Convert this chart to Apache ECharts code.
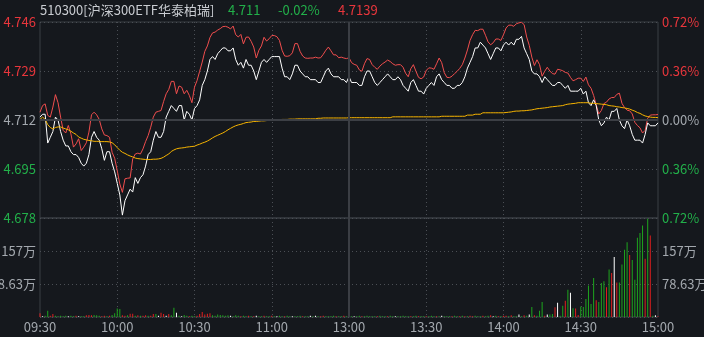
<!DOCTYPE html>
<html>
<head>
<meta charset="utf-8">
<script src="https://cdn.jsdelivr.net/npm/echarts@6/dist/echarts.min.js"></script>
<style>
html,body{margin:0;padding:0;background:#15181d;}
#c{width:704px;height:337px;}
</style>
</head>
<body>
<div id="c"></div>
<script>
// ---- data ----
const code = '510300[沪深300ETF华泰柏瑞]';
const lastPrice = '4.711';
const changePct = '-0.02%';
const iopvLast = '4.7139';
const prevClose = 4.712;
const tickLabels = ['09:30','10:00','10:30','11:00','13:00','13:30','14:00','14:30','15:00'];
const volTickLabels = ['', '78.63万', '157万', ''];
const volMax = 235.89;

const price = [
 4.713,4.714,4.714,4.704,4.706,4.708,4.713,4.712,4.708,4.705,
 4.703,4.703,4.701,4.700,4.700,4.699,4.697,4.696,4.697,4.700,
 4.706,4.708,4.706,4.705,4.702,4.698,4.701,4.701,4.697,4.694,
 4.690,4.686,4.679,4.684,4.686,4.688,4.687,4.692,4.690,4.692,
 4.693,4.696,4.700,4.701,4.705,4.708,4.706,4.706,4.708,4.713,
 4.715,4.717,4.716,4.715,4.717,4.717,4.712,4.715,4.714,4.712,
 4.716,4.717,4.719,4.724,4.726,4.729,4.733,4.734,4.733,4.735,
 4.736,4.737,4.737,4.736,4.736,4.737,4.733,4.731,4.732,4.730,
 4.733,4.731,4.731,4.729,4.726,4.729,4.732,4.733,4.732,4.733,
 4.734,4.734,4.734,4.734,4.730,4.727,4.727,4.726,4.728,4.731,
 4.731,4.729,4.728,4.727,4.727,4.726,4.726,4.726,4.725,4.725,
 4.727,4.729,4.730,4.728,4.727,4.727,4.727,4.726,4.726,4.725,
 4.727,4.725,4.725,4.725,4.724,4.724,4.727,4.729,4.729,4.727,
 4.725,4.724,4.725,4.726,4.727,4.728,4.727,4.726,4.726,4.727,
 4.726,4.724,4.723,4.722,4.725,4.726,4.724,4.722,4.722,4.721,
 4.723,4.724,4.725,4.724,4.727,4.728,4.726,4.725,4.724,4.724,
 4.723,4.723,4.724,4.724,4.725,4.727,4.730,4.732,4.734,4.737,
 4.737,4.739,4.738,4.737,4.735,4.733,4.735,4.737,4.737,4.736,
 4.738,4.739,4.738,4.739,4.738,4.740,4.740,4.741,4.737,4.735,
 4.733,4.729,4.728,4.728,4.727,4.725,4.727,4.726,4.725,4.724,
 4.724,4.725,4.725,4.724,4.723,4.724,4.722,4.722,4.722,4.722,
 4.723,4.721,4.722,4.718,4.717,4.719,4.717,4.712,4.710,4.711,
 4.713,4.712,4.715,4.715,4.716,4.712,4.710,4.709,4.712,4.710,
 4.707,4.705,4.705,4.705,4.704,4.707,4.711,4.710,4.710,4.710,
 4.711];

const iopv = [
 4.7147,4.7170,4.7176,4.7136,4.7130,4.7165,4.7208,4.7180,4.7130,4.7084,
 4.7075,4.7101,4.7072,4.7026,4.7037,4.7055,4.7014,4.7026,4.7041,4.7078,
 4.7138,4.7147,4.7138,4.7122,4.7089,4.7068,4.7066,4.7060,4.7008,4.6987,
 4.6944,4.6898,4.6869,4.6916,4.6918,4.6919,4.6985,4.7002,4.7005,4.7002,
 4.7020,4.7045,4.7066,4.7095,4.7130,4.7147,4.7150,4.7153,4.7184,4.7211,
 4.7226,4.7254,4.7254,4.7211,4.7238,4.7234,4.7211,4.7223,4.7205,4.7180,
 4.7234,4.7257,4.7289,4.7321,4.7358,4.7377,4.7406,4.7422,4.7425,4.7432,
 4.7437,4.7444,4.7445,4.7442,4.7436,4.7446,4.7416,4.7408,4.7417,4.7384,
 4.7407,4.7408,4.7393,4.7373,4.7335,4.7362,4.7377,4.7407,4.7394,4.7402,
 4.7413,4.7413,4.7409,4.7396,4.7362,4.7342,4.7341,4.7343,4.7353,4.7385,
 4.7385,4.7358,4.7342,4.7335,4.7334,4.7335,4.7335,4.7338,4.7335,4.7336,
 4.7348,4.7362,4.7373,4.7360,4.7346,4.7346,4.7336,4.7338,4.7335,4.7333,
 4.7336,4.7319,4.7313,4.7310,4.7294,4.7289,4.7315,4.7333,4.7330,4.7312,
 4.7303,4.7296,4.7307,4.7315,4.7321,4.7328,4.7323,4.7315,4.7310,4.7312,
 4.7312,4.7303,4.7282,4.7270,4.7298,4.7312,4.7289,4.7268,4.7263,4.7269,
 4.7292,4.7301,4.7300,4.7296,4.7315,4.7335,4.7319,4.7284,4.7268,4.7267,
 4.7272,4.7281,4.7289,4.7299,4.7312,4.7335,4.7363,4.7396,4.7416,4.7431,
 4.7430,4.7435,4.7435,4.7414,4.7391,4.7381,4.7388,4.7401,4.7401,4.7396,
 4.7416,4.7439,4.7449,4.7449,4.7445,4.7454,4.7457,4.7459,4.7451,4.7408,
 4.7379,4.7338,4.7309,4.7329,4.7312,4.7272,4.7289,4.7303,4.7290,4.7281,
 4.7279,4.7296,4.7294,4.7291,4.7285,4.7283,4.7268,4.7256,4.7260,4.7265,
 4.7265,4.7254,4.7269,4.7242,4.7230,4.7205,4.7173,4.7141,4.7153,4.7177,
 4.7182,4.7193,4.7198,4.7198,4.7209,4.7213,4.7178,4.7163,4.7154,4.7152,
 4.7141,4.7112,4.7101,4.7093,4.7075,4.7084,4.7126,4.7137,4.7138,4.7138,
 4.7139];

const avgPrice = [
 4.7122,4.7130,4.7122,4.7104,4.7094,4.7089,4.7094,4.7096,4.7096,4.7092,
 4.7089,4.7086,4.7081,4.7075,4.7070,4.7061,4.7057,4.7053,4.7051,4.7049,
 4.7048,4.7046,4.7046,4.7046,4.7045,4.7045,4.7045,4.7044,4.7041,4.7034,
 4.7024,4.7015,4.7008,4.7004,4.6999,4.6995,4.6992,4.6988,4.6986,4.6985,
 4.6984,4.6983,4.6983,4.6983,4.6984,4.6984,4.6985,4.6987,4.6991,4.6997,
 4.7002,4.7011,4.7016,4.7020,4.7022,4.7023,4.7024,4.7026,4.7027,4.7028,
 4.7029,4.7033,4.7036,4.7040,4.7043,4.7047,4.7052,4.7058,4.7063,4.7067,
 4.7071,4.7075,4.7080,4.7086,4.7091,4.7096,4.7100,4.7103,4.7105,4.7108,
 4.7111,4.7112,4.7113,4.7115,4.7115,4.7116,4.7117,4.7117,4.7118,4.7119,
 4.7120,4.7120,4.7121,4.7121,4.7122,4.7122,4.7122,4.7123,4.7123,4.7123,
 4.7124,4.7124,4.7124,4.7124,4.7124,4.7124,4.7124,4.7124,4.7126,4.7126,
 4.7127,4.7127,4.7127,4.7127,4.7127,4.7127,4.7127,4.7127,4.7127,4.7127,
 4.7128,4.7128,4.7128,4.7128,4.7128,4.7128,4.7128,4.7128,4.7128,4.7128,
 4.7128,4.7128,4.7128,4.7128,4.7128,4.7128,4.7128,4.7131,4.7131,4.7131,
 4.7131,4.7131,4.7131,4.7131,4.7131,4.7131,4.7131,4.7131,4.7131,4.7131,
 4.7131,4.7131,4.7131,4.7131,4.7131,4.7131,4.7133,4.7133,4.7133,4.7133,
 4.7133,4.7133,4.7133,4.7133,4.7133,4.7133,4.7137,4.7137,4.7137,4.7140,
 4.7140,4.7140,4.7145,4.7145,4.7145,4.7145,4.7145,4.7145,4.7145,4.7145,
 4.7145,4.7146,4.7147,4.7148,4.7150,4.7151,4.7151,4.7152,4.7152,4.7153,
 4.7154,4.7155,4.7157,4.7159,4.7160,4.7161,4.7162,4.7163,4.7165,4.7166,
 4.7167,4.7168,4.7169,4.7170,4.7173,4.7175,4.7176,4.7177,4.7178,4.7180,
 4.7180,4.7180,4.7180,4.7180,4.7178,4.7178,4.7177,4.7176,4.7175,4.7174,
 4.7173,4.7170,4.7169,4.7168,4.7166,4.7165,4.7163,4.7162,4.7160,4.7158,
 4.7154,4.7151,4.7146,4.7143,4.7138,4.7134,4.7132,4.7130,4.7129,4.7129,
 4.7128];

// volume in 万
const volume = [
 9,2,3,15,3,7,3,2,3,2,
 3,2,3,2,3,2,2,2,4,5,
 4,5,4,3,2,3,2,3,5,9,
 20,19,4,3,4,8,8,3,4,3,
 3,4,3,3,7,7,3,10,7,3,
 7,4,22,10,3,2,5,3,2,3,
 2,3,7,12,6,8,9,4,3,6,
 5,4,3,4,3,2,4,3,2,3,
 2,3,2,2,3,2,2,3,2,2,
 3,2,2,3,2,2,3,2,2,2,
 2,3,2,2,2,3,2,3,2,2,
 3,2,2,2,3,2,2,2,3,2,
 3,2,2,2,3,2,2,3,2,2,
 2,2,3,2,2,2,3,2,2,2,
 2,3,2,2,2,2,3,2,2,2,
 2,2,3,2,2,2,3,2,2,2,
 2,3,2,2,3,2,2,3,2,3,
 2,2,3,2,3,4,2,3,2,2,
 3,3,2,4,2,2,6,2,4,3,
 6,24,4,3,15,36,3,6,6,7,
 23,34,3,27,39,65,58,21,20,5,
 25,24,43,75,31,93,40,36,81,85,
 71,113,105,143,82,82,125,160,178,148,
 136,89,189,200,218,139,234,194,3,4,
 2];
// r = up, g = down, w = flat
const volDir = (
 'rwggrrgggg' + 'gwggrwggrr' + 'rgggrrgrgg' + 'ggrrgrrgrg' + 'rrgrrgwrrw' +
 'rggwgwggrg' + 'grrrrrrggg' + 'ggggwgggrg' + 'grgrwggrgg' + 'rgwggrggwg' +
 'ggrggwgwgr' + 'rggggrggrg' + 'ggwggrgggg' + 'grgggrggwg' + 'ggggrggrgg' +
 'rgggrgwggg' + 'rggrgrgrrg' + 'ggrggrwgrg' + 'rrgrggwgrg' + 'wgrgggrwgg' +
 'rwggrgwgrr' + 'ggggggrggg' + 'rgrwrggggr' + 'gggggrgrgw' + 'r').split('');

// ---- build ----
const times = [];
function fmt(m){ const h = Math.floor(m/60), mm = m%60; return (h<10?'0':'')+h+':'+(mm<10?'0':'')+mm; }
for (let m = 0; m <= 120; m++) times.push(fmt(9*60+30+m));
for (let m = 1; m <= 120; m++) times.push(fmt(13*60+m));

const RED = '#e8363c', GREEN = '#22b04a', GRAY = '#a3a8ae';
const barColor = {r: '#e01f1f', g: '#1ea51e', w: '#ffffff'};
const volData = volume.map((v, i) => ({value: v, itemStyle: {color: barColor[volDir[i]]}}));

const FONT = 'Noto Sans CJK SC';
const BORDER = '#3b3e44';
const DASH = '#4b4f55';

const xCommon = {
  type: 'category', data: times, boundaryGap: false,
  axisLine: {show: false}, axisTick: {show: false},
  splitLine: {show: true, interval: (i) => i % 30 === 0 && i > 0 && i < 240 && i !== 120,
              lineStyle: {color: DASH, type: [1, 3], width: 1}}
};

const chart = echarts.init(document.getElementById('c'), null, {renderer: 'canvas'});
chart.setOption({
  animation: false,
  backgroundColor: '#15181d',
  textStyle: {fontFamily: FONT},
  title: [
    {text: code, left: 40, top: 4, padding: 0, textStyle: {color: '#c9ccd1', fontSize: 13, fontWeight: 'normal', fontFamily: FONT}},
    {text: lastPrice, left: 228, top: 4, padding: 0, textStyle: {color: GREEN, fontSize: 13, fontWeight: 'normal', fontFamily: FONT}},
    {text: changePct, left: 278, top: 4, padding: 0, textStyle: {color: GREEN, fontSize: 13, fontWeight: 'normal', fontFamily: FONT}},
    {text: iopvLast, left: 338, top: 4, padding: 0, textStyle: {color: RED, fontSize: 13, fontWeight: 'normal', fontFamily: FONT}}
  ],
  grid: [
    {left: 40, right: 46, top: 22, height: 196, show: true, borderColor: BORDER, borderWidth: 1,
     backgroundColor: 'transparent', containLabel: false, outerBoundsMode: 'none'},
    {left: 40, right: 46, top: 218, height: 99, show: true, borderColor: BORDER, borderWidth: 1,
     backgroundColor: 'transparent', containLabel: false, outerBoundsMode: 'none'}
  ],
  xAxis: [
    Object.assign({}, xCommon, {gridIndex: 0, axisLabel: {show: false}}),
    Object.assign({}, xCommon, {gridIndex: 1, axisLabel: {
      show: true, interval: (i) => i % 30 === 0, margin: 4,
      color: GRAY, fontSize: 13, fontFamily: FONT,
      formatter: (v, i) => tickLabels[Math.round(i / 30)]
    }})
  ],
  yAxis: [
    {type: 'value', gridIndex: 0, position: 'left', min: 4.678, max: 4.746, interval: 0.017,
     axisLine: {show: false}, axisTick: {show: false},
     splitLine: {show: true, lineStyle: {color: DASH, type: [1, 3]}},
     axisLabel: {margin: 4, fontSize: 13, fontFamily: FONT,
       formatter: (v) => v.toFixed(3),
       color: (v) => { const d = parseFloat(v) - prevClose; return Math.abs(d) < 1e-6 ? GRAY : (d > 0 ? RED : GREEN); }}},
    {type: 'value', gridIndex: 0, position: 'right', min: -0.72, max: 0.72, interval: 0.36,
     axisLine: {show: false}, axisTick: {show: false}, splitLine: {show: false},
     axisLabel: {margin: 4, fontSize: 13, fontFamily: FONT,
       formatter: (v) => Math.abs(v).toFixed(2) + '%',
       color: (v) => { const d = parseFloat(v); return Math.abs(d) < 1e-6 ? GRAY : (d > 0 ? RED : GREEN); }}},
    {type: 'value', gridIndex: 1, position: 'left', min: 0, max: volMax, interval: volMax / 3,
     axisLine: {show: false}, axisTick: {show: false},
     splitLine: {show: true, lineStyle: {color: DASH, type: [1, 3]}},
     axisLabel: {margin: 4, fontSize: 13, fontFamily: FONT, color: GRAY, formatter: (v, i) => volTickLabels[i] || ''}},
    {type: 'value', gridIndex: 1, position: 'right', min: 0, max: volMax, interval: volMax / 3,
     axisLine: {show: false}, axisTick: {show: false}, splitLine: {show: false},
     axisLabel: {margin: 4, fontSize: 13, fontFamily: FONT, color: GRAY, formatter: (v, i) => volTickLabels[i] || ''}}
  ],
  series: [
    {type: 'line', name: 'iopv', xAxisIndex: 0, yAxisIndex: 0, data: iopv, showSymbol: false, symbol: 'none',
     lineStyle: {color: '#f04e4e', width: 1},
     markLine: {silent: true, symbol: 'none', precision: 4, label: {show: false},
       data: [{yAxis: prevClose, lineStyle: {color: '#3c3f45', width: 2, type: 'solid'}},
              {xAxis: times[120], lineStyle: {color: BORDER, width: 2, type: 'solid'}}]}},
    {type: 'line', name: 'price', xAxisIndex: 0, yAxisIndex: 0, data: price, showSymbol: false, symbol: 'none',
     lineStyle: {color: '#ffffff', width: 1}},
    {type: 'line', name: 'avg', xAxisIndex: 0, yAxisIndex: 0, data: avgPrice, showSymbol: false, symbol: 'none',
     lineStyle: {color: '#f7b400', width: 1}},
    {type: 'bar', name: 'vol', xAxisIndex: 1, yAxisIndex: 2, data: volData, barWidth: 1,
     markLine: {silent: true, symbol: 'none', precision: 4, label: {show: false},
       data: [{xAxis: times[120], lineStyle: {color: BORDER, width: 2, type: 'solid'}}]}}
  ]
});
</script>
</body>
</html>
